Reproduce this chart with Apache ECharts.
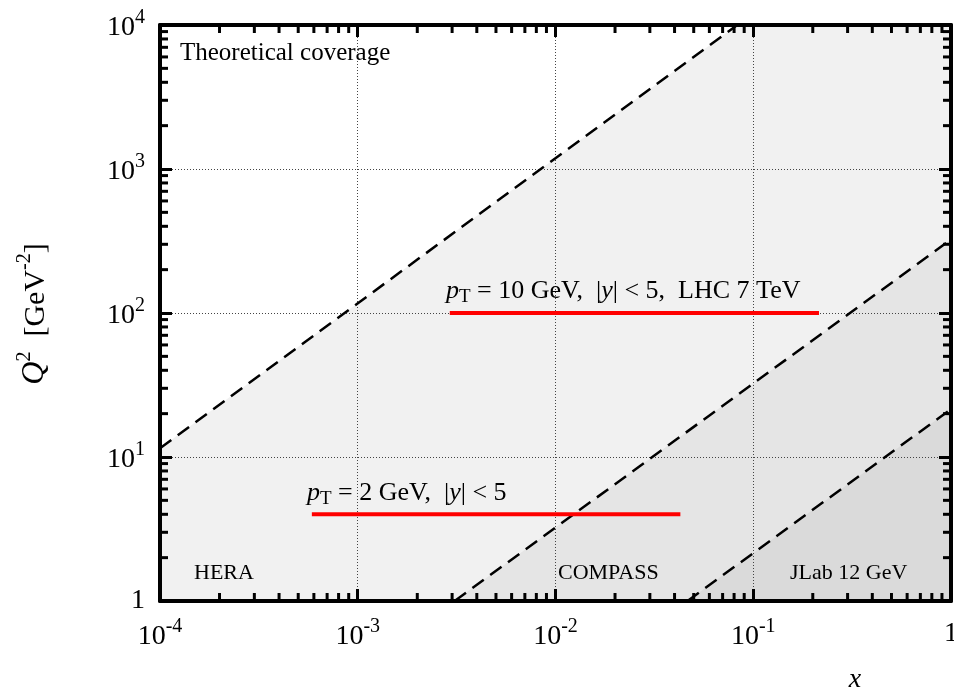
<!DOCTYPE html>
<html>
<head>
<meta charset="utf-8">
<script src="https://cdn.jsdelivr.net/npm/echarts@6/dist/echarts.min.js"></script>
<style>
  html, body { margin: 0; padding: 0; background: #fff; }
  #chart { width: 954px; height: 693px; }
</style>
</head>
<body>
<div id="chart"></div>
<script>
// axis decades and their labels [mantissa, exponent]
const xDecades = [1e-4, 1e-3, 1e-2, 1e-1, 1];
const xTickLabels = [['10', '-4'], ['10', '-3'], ['10', '-2'], ['10', '-1'], ['1', '']];
const yDecades = [1, 10, 100, 1000, 10000];
const yTickLabels = [['1', ''], ['10', '1'], ['10', '2'], ['10', '3'], ['10', '4']];
const minorFactors = [2, 3, 4, 5, 6, 7, 8, 9];

// kinematic limits, points are [x, Q^2]
const heraLimit = [[1e-4, 11.5], [0.083, 1e4]];
const compassLimit = [[3.09e-3, 1], [1, 324]];
const jlabLimit = [[0.0465, 1], [1, 21.5]];

// p_T coverage bands
const pt2Band = [[5.86e-4, 4], [0.0428, 4]];
const pt10Band = [[2.92e-3, 100], [0.215, 100]];

const FONT = 'Liberation Serif';

let xMinor = [];
xDecades.slice(0, -1).forEach(d => minorFactors.forEach(f => xMinor.push([d * f, 1])));
let yMinor = [];
yDecades.slice(0, -1).forEach(d => minorFactors.forEach(f => yMinor.push([1e-4, d * f])));

function tickText(labels, offset) {
  return function (v) {
    const t = labels[Math.round(Math.log10(v)) + offset];
    if (!t) return '';
    return t[1] ? '{b|' + t[0] + '}{s|' + t[1] + '}' : '{one|' + t[0] + '}';
  };
}
const tickRich = {
  b: { fontFamily: FONT, fontSize: 28, lineHeight: 34, verticalAlign: 'bottom', color: '#000' },
  s: { fontFamily: FONT, fontSize: 20, lineHeight: 20, verticalAlign: 'top', color: '#000' },
  one: { fontFamily: FONT, fontSize: 28, lineHeight: 34, color: '#000' }
};

function logX(extra) {
  return Object.assign({
    type: 'log', logBase: 10, min: 1e-4, max: 1, z: 3,
    axisLine: { show: true, lineStyle: { color: '#000', width: 4 } },
    axisTick: { show: true, inside: true, length: 12, lineStyle: { color: '#000', width: 3 } },
    splitLine: { show: true, lineStyle: { color: '#444', width: 1, type: [1, 2] } },
    axisLabel: { show: false }
  }, extra);
}
function logY(extra) {
  return Object.assign({
    type: 'log', logBase: 10, min: 1, max: 1e4, z: 3,
    axisLine: { show: true, lineStyle: { color: '#000', width: 4 } },
    axisTick: { show: true, inside: true, length: 12, lineStyle: { color: '#000', width: 3 } },
    splitLine: { show: true, lineStyle: { color: '#444', width: 1, type: [1, 2] } },
    axisLabel: { show: false }
  }, extra);
}

function minorTicks(dir) {
  return function (params, api) {
    const cs = params.coordSys;
    const len = 8;
    const st = { stroke: '#000', lineWidth: 3 };
    if (dir === 'x') {
      const px = api.coord([api.value(0), 1])[0];
      const yb = cs.y + cs.height;
      return { type: 'group', children: [
        { type: 'line', shape: { x1: px, y1: yb, x2: px, y2: yb - len }, style: st },
        { type: 'line', shape: { x1: px, y1: cs.y, x2: px, y2: cs.y + len }, style: st }
      ] };
    }
    const py = api.coord([1e-4, api.value(1)])[1];
    const xr = cs.x + cs.width;
    return { type: 'group', children: [
      { type: 'line', shape: { x1: cs.x, y1: py, x2: cs.x + len, y2: py }, style: st },
      { type: 'line', shape: { x1: xr, y1: py, x2: xr - len, y2: py }, style: st }
    ] };
  };
}

function fill(data, color) {
  return {
    type: 'line', data: data, symbol: 'none', z: 1, silent: true,
    lineStyle: { width: 0 },
    areaStyle: { color: color, opacity: 1, origin: 'start' }
  };
}
function dashed(data) {
  return {
    type: 'line', data: data, symbol: 'none', z: 4, silent: true,
    lineStyle: { color: '#000', width: 2.5, type: [14, 8] }
  };
}
function band(data) {
  return {
    type: 'line', data: data, symbol: 'none', z: 5, silent: true,
    lineStyle: { color: '#ff0000', width: 4 }
  };
}

const labelRich = {
  n: { fontFamily: FONT, fontSize: 26, lineHeight: 32, color: '#000' },
  i: { fontFamily: FONT, fontSize: 26, lineHeight: 32, fontStyle: 'italic', color: '#000' },
  sub: { fontFamily: FONT, fontSize: 19, lineHeight: 21, verticalAlign: 'bottom', color: '#000' }
};

const chart = echarts.init(document.getElementById('chart'));
chart.setOption({
  animation: false,
  backgroundColor: '#fff',
  textStyle: { fontFamily: FONT },
  grid: { left: 160, right: 3, top: 25, bottom: 92, outerBoundsMode: 'none', containLabel: false },
  xAxis: [
    logX({ position: 'bottom', axisLabel: { show: true, margin: 16, formatter: tickText(xTickLabels, 4), rich: tickRich } }),
    logX({ position: 'top', splitLine: { show: false } })
  ],
  yAxis: [
    logY({ position: 'left', axisLabel: { show: true, margin: 15, formatter: tickText(yTickLabels, 0), rich: tickRich } }),
    logY({ position: 'right', splitLine: { show: false } })
  ],
  series: [
    fill(heraLimit.concat([[1, 1e4]]), '#f1f1f1'),
    fill(compassLimit, '#e5e5e5'),
    fill(jlabLimit, '#dadada'),
    dashed(heraLimit),
    dashed(compassLimit),
    dashed(jlabLimit),
    band(pt2Band),
    band(pt10Band),
    { type: 'custom', data: xMinor, renderItem: minorTicks('x'), z: 6, silent: true },
    { type: 'custom', data: yMinor, renderItem: minorTicks('y'), z: 6, silent: true }
  ],
  graphic: [
    { type: 'text', x: 180, y: 53, z: 10, style: { text: 'Theoretical coverage', font: '25px ' + FONT, fill: '#000', verticalAlign: 'middle' } },
    { type: 'text', x: 194, y: 573, z: 10, style: { text: 'HERA', font: '22px ' + FONT, fill: '#000', verticalAlign: 'middle' } },
    { type: 'text', x: 558, y: 573, z: 10, style: { text: 'COMPASS', font: '22px ' + FONT, fill: '#000', verticalAlign: 'middle' } },
    { type: 'text', x: 790, y: 573, z: 10, style: { text: 'JLab 12 GeV', font: '22px ' + FONT, fill: '#000', verticalAlign: 'middle' } },
    { type: 'text', x: 307, y: 493, z: 10, style: {
      text: '{i|p}{sub|T}{n| = 2 GeV,  |}{i|y}{n|| < 5}', rich: labelRich, verticalAlign: 'middle' } },
    { type: 'text', x: 446, y: 291, z: 10, style: {
      text: '{i|p}{sub|T}{n| = 10 GeV,  |}{i|y}{n|| < 5,  LHC 7 TeV}', rich: labelRich, verticalAlign: 'middle' } },
    { type: 'text', x: 33, y: 314, rotation: Math.PI / 2, z: 10, style: {
      text: '{q|Q}{s|2}{n|  [GeV}{s|-2}{n|]}', align: 'center', verticalAlign: 'middle',
      rich: {
        q: { fontFamily: FONT, fontSize: 32, lineHeight: 36, fontStyle: 'italic', verticalAlign: 'bottom', color: '#000' },
        n: { fontFamily: FONT, fontSize: 30, lineHeight: 36, verticalAlign: 'bottom', color: '#000' },
        s: { fontFamily: FONT, fontSize: 20, lineHeight: 22, verticalAlign: 'top', color: '#000' }
      } } },
    { type: 'text', x: 855, y: 680, z: 10, style: { text: 'x', font: 'italic 28px ' + FONT, fill: '#000', align: 'center', verticalAlign: 'middle' } }
  ]
});
</script>
</body>
</html>
